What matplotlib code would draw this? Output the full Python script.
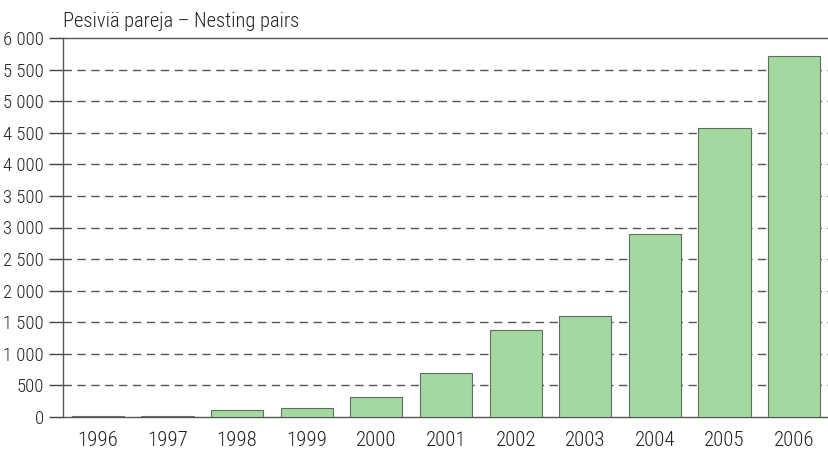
import matplotlib
matplotlib.use("Agg")
import matplotlib.pyplot as plt

years = ["1996", "1997", "1998", "1999", "2000", "2001", "2002", "2003", "2004", "2005", "2006"]
pairs = [8, 20, 110, 150, 320, 690, 1370, 1600, 2890, 4570, 5710]
yticks = [0, 500, 1000, 1500, 2000, 2500, 3000, 3500, 4000, 4500, 5000, 5500, 6000]
ytick_labels = ["0", "500", "1 000", "1 500", "2 000", "2 500", "3 000", "3 500",
                "4 000", "4 500", "5 000", "5 500", "6 000"]
title = "Pesiviä pareja – Nesting pairs"

plt.rcParams['font.family'] = ['Roboto Condensed', 'DejaVu Sans']
plt.rcParams['font.weight'] = 'light'

fig = plt.figure(figsize=(8.29, 4.51), dpi=100)
ax = fig.add_axes([63/829, 1 - 417/451, (829 - 63)/829, (417 - 38)/451])

x = list(range(len(years)))
ax.bar(x, pairs, width=0.75, color="#a3d9a0", edgecolor="#5f6e5f", linewidth=0.8, zorder=3)

ax.set_xlim(-0.5, len(years) - 0.5)
ax.set_ylim(0, 6000)
ax.set_yticks(yticks)
ax.set_yticklabels(ytick_labels, fontsize=13.5, color="#222222")
ax.set_xticks(x)
ax.set_xticklabels(years, fontsize=15, color="#222222")
ax.tick_params(axis='x', length=0, pad=10)
ax.tick_params(axis='y', length=10, width=1, color="#444444", pad=4, direction='out')

for v in yticks[1:-1]:
    ax.axhline(v, color="#555555", linewidth=1, linestyle=(0, (6, 4)), zorder=1)

for s in ["top", "left", "bottom"]:
    ax.spines[s].set_color("#555555")
    ax.spines[s].set_linewidth(1)
ax.spines["right"].set_visible(False)

fig.text(63/829, 1 - 27/451, title, fontsize=14.8, color="#222222", ha="left", va="baseline")

fig.savefig("out.png", dpi=100)
